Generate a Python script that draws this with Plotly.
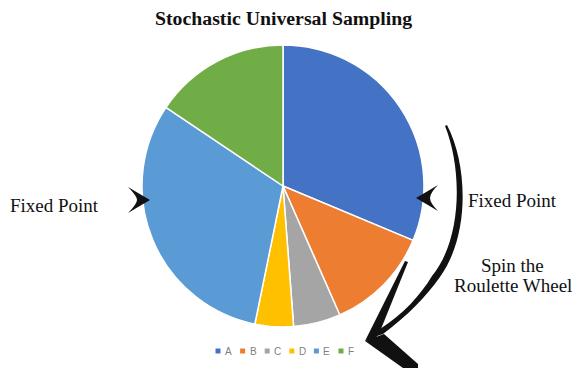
import plotly.graph_objects as go

W, H = 573, 368

# ---- data ----
categories = ["A", "B", "C", "D", "E", "F"]
values = [31.3, 12.1, 5.4, 4.4, 31.2, 15.6]
colors = ["#4472C4", "#ED7D31", "#A5A5A5", "#FFC000", "#5B9BD5", "#70AD47"]
title_text = "Stochastic Universal Sampling"

# ---- pie geometry (pixels) ----
cx, cy, r = 283, 186, 141

fig = go.Figure()
fig.add_trace(go.Pie(
    labels=categories, values=values, sort=False, direction="clockwise",
    rotation=0, marker=dict(colors=colors, line=dict(color="white", width=1.5)),
    textinfo="none", hoverinfo="label+value", showlegend=False,
    domain=dict(x=[(cx - r) / W, (cx + r) / W], y=[1 - (cy + r) / H, 1 - (cy - r) / H]),
))

# manual legend
lx0, ly, lstep = 218, 351, 24.6
fig.add_trace(go.Scatter(
    x=[lx0 + i * lstep for i in range(len(categories))], y=[ly] * len(categories),
    mode="markers", marker=dict(symbol="square", size=5, color=colors),
    showlegend=False, hoverinfo="skip",
))
serif = "Liberation Serif, Times New Roman, serif"
ann = []
for i, c in enumerate(categories):
    ann.append(dict(x=lx0 + i * lstep + 5, y=ly, text=c, xref="x", yref="y",
                    xanchor="left", yanchor="middle", showarrow=False,
                    font=dict(family="Liberation Sans, Arial", size=10, color="#7f7f7f")))

ann += [
    dict(x=283, y=18, text="<b>" + title_text + "</b>", font=dict(family=serif, size=19.8, color="#111")),
    dict(x=54, y=205, text="Fixed Point", font=dict(family=serif, size=19, color="#111")),
    dict(x=512, y=200, text="Fixed Point", font=dict(family=serif, size=19, color="#111")),
    dict(x=512, y=265, text="Spin the", font=dict(family=serif, size=19, color="#111")),
    dict(x=512.5, y=285, text="Roulette Wheel", font=dict(family=serif, size=19, color="#111")),
]
for a in ann[len(categories):]:
    a.update(xref="x", yref="y", xanchor="center", yanchor="middle", showarrow=False)

shapes = [
    # left chevron
    dict(path="M 150,200 Q 138,193 128,187 Q 137,196 137,200 Q 137,204 128,213 Q 138,207 150,200 Z"),
    # right chevron
    dict(path="M 416,198 Q 428,191 438,185 Q 430,193 430,198 Q 430,203 438,211 Q 428,205 416,198 Z"),
    # curved arrow shaft
    dict(path="M 447,125 C 468,165 470,235 440,277 C 425,298 408,315 383,334 "
              "L 374,337 L 380,329 C 403,314 420,296 432,276 C 463,238 462,168 445,126 Z"),
    # upper barb
    dict(path="M 365,341 L 405,261 L 408,262 L 381,329 L 376,338 Z"),
    # lower barb
    dict(path="M 365,341 L 384,334 L 418,364 L 418,368 L 403,368 Z"),
]
for s in shapes:
    s.update(type="path", xref="x", yref="y", fillcolor="#111111", line=dict(width=0), layer="above")

fig.update_layout(
    width=W, height=H, margin=dict(l=0, r=0, t=0, b=0),
    paper_bgcolor="white", plot_bgcolor="rgba(0,0,0,0)",
    xaxis=dict(range=[0, W], visible=False, fixedrange=True, domain=[0, 1]),
    yaxis=dict(range=[H, 0], visible=False, fixedrange=True, domain=[0, 1]),
    annotations=ann, shapes=shapes, showlegend=False,
)
fig.write_html("out.html")
